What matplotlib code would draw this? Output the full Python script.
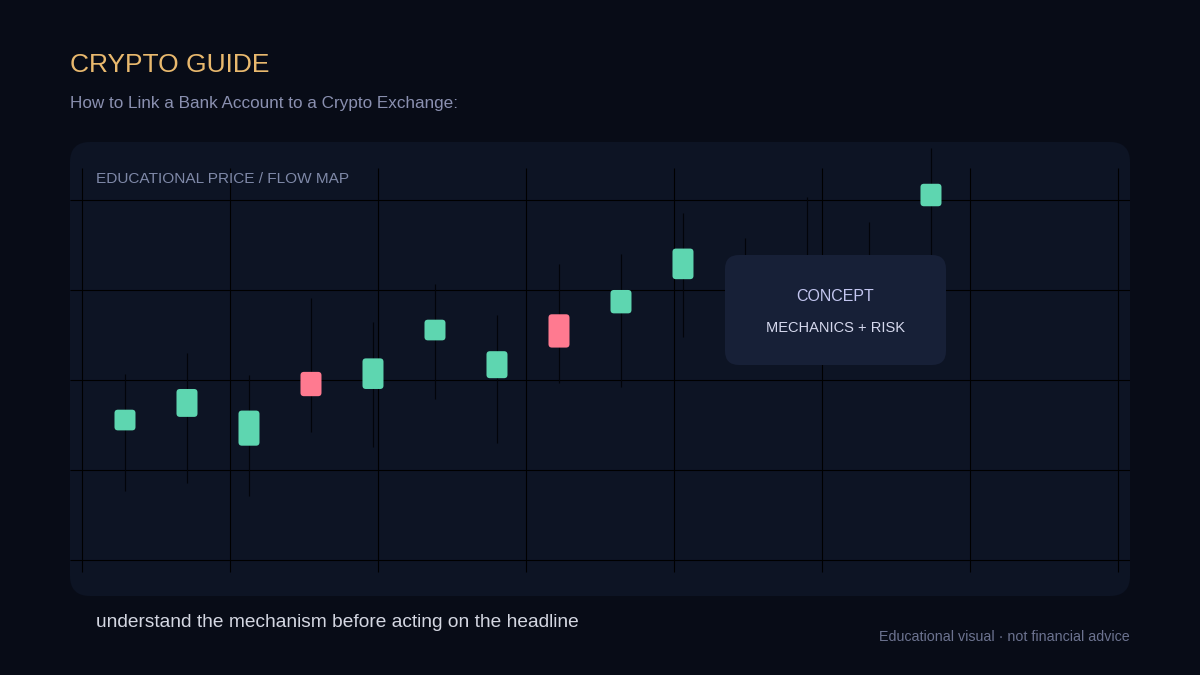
#!/usr/bin/env python3
import matplotlib
matplotlib.use("Agg")
import matplotlib.pyplot as plt
from matplotlib.patches import FancyBboxPatch
import numpy as np

plt.rcParams['font.family'] = ['Liberation Sans', 'DejaVu Sans']

# candle data (price units), one entry per session
opens  = [114.4, 115.9, 112.7, 120.9, 119.0, 124.4, 120.2, 127.3, 127.4, 131.2, 128.9, 130.0, 130.5, 139.3]
closes = [116.7, 119.0, 116.6, 118.2, 122.4, 126.7, 123.2, 123.6, 130.0, 134.6, 131.7, 133.3, 133.5, 141.8]
highs  = [120.7, 123.0, 120.6, 129.1, 126.4, 130.7, 127.2, 132.9, 134.0, 138.6, 135.8, 140.3, 137.6, 145.8]
lows   = [107.7, 108.6, 107.1, 114.2, 112.6, 117.9, 113.0, 119.7, 119.2, 124.8, 125.5, 126.0, 125.0, 131.0]
price_levels = [100, 110, 120, 130, 140]

title = "CRYPTO GUIDE"
subtitle = "How to Link a Bank Account to a Crypto Exchange:"
panel_label = "EDUCATIONAL PRICE / FLOW MAP"
box_title = "CONCEPT"
box_sub = "MECHANICS + RISK"
footer = "understand the mechanism before acting on the headline"
disclaimer = "Educational visual \u00b7 not financial advice"

BG = "#080c17"
PANEL = "#0d1424"
BOX = "#172037"
UP = "#5ed6b0"
DOWN = "#ff7a90"
WICK = "#02040a"

fig = plt.figure(figsize=(12, 6.75), dpi=100, facecolor=BG)

# background layer in pixel coords
bg = fig.add_axes([0, 0, 1, 1], zorder=0)
bg.set_xlim(0, 1200)
bg.set_ylim(675, 0)
bg.axis("off")
bg.add_patch(FancyBboxPatch((70, 142), 1060, 454, boxstyle="round,pad=0,rounding_size=20",
                            fc=PANEL, ec="none"))

# chart layer
ax = fig.add_axes([70 / 1200, 79 / 675, 1060 / 1200, 454 / 675], zorder=1)
ax.patch.set_alpha(0)
ax.axis("off")
n = len(opens)
ax.set_xlim(-0.887, 16.21)
ax.set_ylim(96.0, 146.44)

# grid
ax.hlines(price_levels, -0.887, 16.21, color="#000000", lw=0.8, zorder=1)
gx = -0.694 + 2.387 * np.arange(8)
ax.vlines(gx, 98.67, 143.6, color="#000000", lw=0.8, zorder=1)

# candles
w = 21 / 62
asp = 62 / 9
for i in range(n):
    o, c = opens[i], closes[i]
    ax.vlines(i, lows[i], highs[i], color=WICK, lw=0.85, zorder=2)
    col = UP if c >= o else DOWN
    ax.add_patch(FancyBboxPatch((i - w / 2, min(o, c)), w, abs(c - o),
                                boxstyle="round,pad=0,rounding_size=0.055",
                                mutation_aspect=asp, fc=col, ec="none", zorder=3))

# overlay layer
top = fig.add_axes([0, 0, 1, 1], zorder=2)
top.set_xlim(0, 1200)
top.set_ylim(675, 0)
top.axis("off")
top.patch.set_alpha(0)
top.add_patch(FancyBboxPatch((725, 255), 221, 110, boxstyle="round,pad=0,rounding_size=14",
                             fc=BOX, ec="none"))
top.text(835, 301, box_title, color="#c3c6f0", fontsize=11.5, ha="center", va="baseline")
top.text(835, 332.5, box_sub, color="#d6d9ee", fontsize=10.5, ha="center", va="baseline")

top.text(70, 72, title, color="#e9b96e", fontsize=19, ha="left", va="baseline")
top.text(70, 108, subtitle, color="#8a90b0", fontsize=12.3, ha="left", va="baseline")
top.text(96, 183, panel_label, color="#7f89a8", fontsize=11.1, ha="left", va="baseline")
top.text(96, 627, footer, color="#d4d7e2", fontsize=13.8, ha="left", va="baseline")
top.text(1130, 641, disclaimer, color="#6c7390", fontsize=10.3, ha="right", va="baseline")

fig.savefig("out.png", dpi=100, facecolor=BG)
